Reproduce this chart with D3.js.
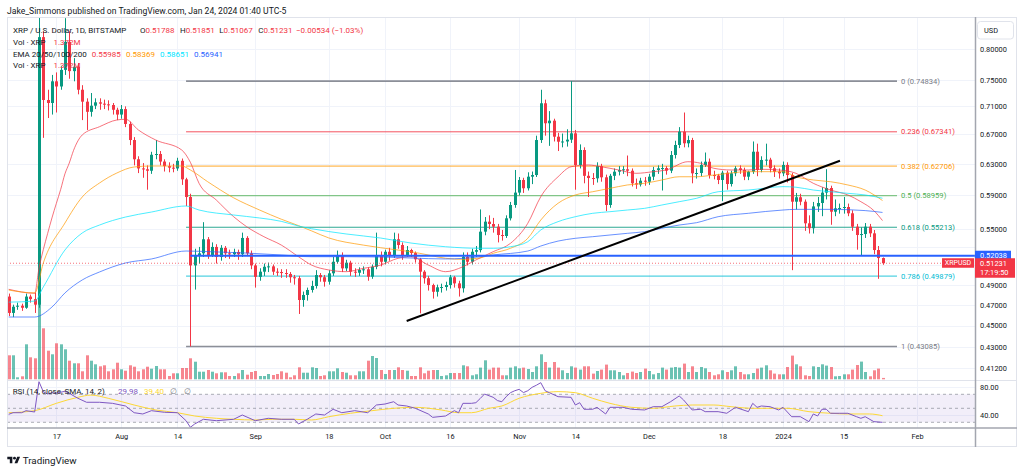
<!DOCTYPE html>
<html><head><meta charset="utf-8">
<script src="https://cdn.jsdelivr.net/npm/d3@7"></script>
<style>body{margin:0;background:#fff}svg{display:block;font-family:Roboto,"Noto Sans",sans-serif}</style>
</head><body><svg id="c" width="1024" height="472"></svg>
<script>
// ---------------- DATA ----------------
const startDate = "2023-07-06";
const endDate = "2024-01-24";
const opens = [
0.478,0.462,0.468,0.469,0.467,0.478,0.4755,0.470,0.820,0.7195,
0.715,0.748,0.740,0.766,0.812,0.764,0.771,0.735,0.717,0.702,
0.711,0.716,0.714,0.713,0.712,0.705,0.698,0.706,0.6845,0.662,
0.636,0.624,0.6229,0.621,0.642,0.643,0.633,0.627,0.625,0.624,
0.634,0.610,0.588,0.510,0.521,0.523,0.5385,0.521,0.530,0.519,
0.529,0.523,0.522,0.5245,0.522,0.540,0.523,0.510,0.498,0.5034,
0.5086,0.509,0.5034,0.503,0.502,0.501,0.4976,0.4966,0.4746,0.4796,
0.4846,0.4886,0.4999,0.4976,0.493,0.5017,0.5139,0.5212,0.5069,0.5129,
0.5034,0.5023,0.5052,0.5059,0.4982,0.5086,0.5212,0.5139,0.5247,0.5201,
0.5385,0.5321,0.5212,0.5266,0.5233,0.5165,0.5034,0.4966,0.4896,0.4828,
0.4873,0.4876,0.4896,0.4976,0.4913,0.4863,0.5193,0.5139,0.5247,0.5265,
0.5471,0.5586,0.5559,0.5528,0.5433,0.5422,0.5625,0.5783,0.5934,0.6092,
0.5988,0.6134,0.6155,0.662,0.7146,0.6855,0.6892,0.6666,0.6597,0.660,
0.6625,0.6713,0.6285,0.6484,0.6145,0.6117,0.6113,0.627,0.6126,0.5783,
0.6145,0.6198,0.622,0.6229,0.621,0.605,0.6035,0.6083,0.607,0.6134,
0.622,0.6242,0.6245,0.6211,0.6417,0.6552,0.6736,0.6575,0.662,0.6177,
0.6181,0.6285,0.6328,0.6155,0.6148,0.6092,0.6185,0.6041,0.6177,0.6242,
0.622,0.6134,0.6198,0.6461,0.622,0.6351,0.6355,0.6242,0.6198,0.6177,
0.6285,0.6155,0.5823,0.5877,0.5823,0.5567,0.551,0.5766,0.5807,0.5934,
0.5991,0.5703,0.5743,0.5747,0.5759,0.5684,0.5528,0.5433,0.5444,0.5528,
0.5452,0.5266,0.51788];
const highs = [
0.481,0.470,0.472,0.471,0.481,0.480,0.482,0.935,0.830,0.735,
0.758,0.762,0.772,0.853,0.830,0.785,0.777,0.742,0.722,0.730,
0.722,0.722,0.720,0.719,0.715,0.708,0.712,0.710,0.688,0.666,
0.640,0.631,0.628,0.646,0.662,0.647,0.636,0.632,0.630,0.638,
0.637,0.612,0.592,0.528,0.530,0.558,0.541,0.535,0.533,0.532,
0.531,0.527,0.528,0.527,0.546,0.542,0.526,0.512,0.507,0.512,
0.513,0.511,0.507,0.506,0.506,0.503,0.500,0.499,0.483,0.487,
0.494,0.505,0.502,0.500,0.505,0.519,0.526,0.524,0.516,0.515,
0.507,0.508,0.509,0.508,0.511,0.546,0.525,0.527,0.529,0.546,
0.545,0.535,0.531,0.528,0.525,0.518,0.505,0.499,0.491,0.490,
0.491,0.493,0.500,0.499,0.494,0.524,0.524,0.528,0.531,0.573,
0.564,0.566,0.563,0.556,0.549,0.566,0.582,0.622,0.613,0.612,
0.619,0.620,0.668,0.735,0.720,0.703,0.692,0.672,0.671,0.677,
0.7483,0.676,0.656,0.652,0.620,0.618,0.632,0.630,0.616,0.617,
0.624,0.627,0.627,0.641,0.624,0.611,0.612,0.613,0.617,0.626,
0.628,0.630,0.627,0.647,0.661,0.680,0.701,0.668,0.665,0.624,
0.633,0.645,0.637,0.621,0.617,0.621,0.621,0.621,0.627,0.628,
0.625,0.621,0.660,0.657,0.640,0.657,0.638,0.628,0.624,0.633,
0.632,0.618,0.593,0.592,0.585,0.566,0.582,0.588,0.600,0.623,
0.602,0.585,0.580,0.588,0.580,0.572,0.556,0.552,0.557,0.556,
0.549,0.531,0.51851];
const lows = [
0.459,0.458,0.465,0.464,0.466,0.472,0.462,0.467,0.665,0.693,
0.698,0.701,0.735,0.758,0.752,0.748,0.728,0.690,0.676,0.695,
0.706,0.705,0.706,0.704,0.698,0.690,0.692,0.680,0.655,0.628,
0.618,0.612,0.597,0.617,0.636,0.628,0.620,0.619,0.619,0.621,
0.603,0.577,0.4309,0.485,0.512,0.519,0.517,0.519,0.512,0.515,
0.518,0.517,0.519,0.516,0.519,0.520,0.506,0.487,0.494,0.499,
0.503,0.500,0.499,0.497,0.497,0.492,0.490,0.461,0.468,0.474,
0.482,0.486,0.493,0.488,0.490,0.499,0.512,0.503,0.504,0.499,
0.498,0.499,0.501,0.494,0.496,0.506,0.509,0.511,0.515,0.518,
0.528,0.516,0.519,0.519,0.513,0.4616,0.491,0.484,0.476,0.478,
0.482,0.484,0.486,0.487,0.478,0.482,0.510,0.511,0.519,0.524,
0.543,0.550,0.546,0.535,0.537,0.540,0.560,0.575,0.590,0.593,
0.596,0.604,0.613,0.658,0.668,0.654,0.660,0.647,0.652,0.653,
0.658,0.597,0.624,0.605,0.588,0.603,0.606,0.607,0.571,0.575,
0.609,0.615,0.617,0.614,0.601,0.598,0.601,0.602,0.603,0.609,
0.617,0.596,0.616,0.618,0.637,0.651,0.652,0.652,0.605,0.611,
0.614,0.626,0.611,0.610,0.604,0.583,0.597,0.601,0.614,0.617,
0.609,0.609,0.617,0.614,0.619,0.628,0.619,0.613,0.611,0.614,
0.606,0.505,0.573,0.578,0.548,0.545,0.545,0.570,0.565,0.585,
0.555,0.565,0.568,0.568,0.565,0.548,0.527,0.521,0.540,0.541,
0.522,0.496,0.51067];
const closes = [
0.462,0.468,0.469,0.467,0.478,0.4755,0.470,0.820,0.7195,0.715,
0.748,0.740,0.766,0.812,0.764,0.771,0.735,0.717,0.702,0.711,
0.716,0.714,0.713,0.712,0.705,0.698,0.706,0.6845,0.662,0.636,
0.624,0.6229,0.621,0.642,0.643,0.633,0.627,0.625,0.624,0.634,
0.610,0.588,0.510,0.521,0.523,0.5385,0.521,0.530,0.519,0.529,
0.523,0.522,0.5245,0.522,0.540,0.523,0.510,0.498,0.5034,0.5086,
0.509,0.5034,0.503,0.502,0.501,0.4976,0.4966,0.4746,0.4796,0.4846,
0.4886,0.4999,0.4976,0.493,0.5017,0.5139,0.5212,0.5069,0.5129,0.5034,
0.5023,0.5052,0.5059,0.4982,0.5086,0.5212,0.5139,0.5247,0.5201,0.5385,
0.5321,0.5212,0.5266,0.5233,0.5165,0.5034,0.4966,0.4896,0.4828,0.4873,
0.4876,0.4896,0.4976,0.4913,0.4863,0.5193,0.5139,0.5247,0.5265,0.5471,
0.5586,0.5559,0.5528,0.5433,0.5422,0.5625,0.5783,0.5934,0.6092,0.5988,
0.6134,0.6155,0.662,0.7146,0.6855,0.6892,0.6666,0.6597,0.660,0.6625,
0.6713,0.6285,0.6484,0.6145,0.6117,0.6113,0.627,0.6126,0.5783,0.6145,
0.6198,0.622,0.6229,0.621,0.605,0.6035,0.6083,0.607,0.6134,0.622,
0.6242,0.6245,0.6211,0.6417,0.6552,0.6736,0.6575,0.662,0.6177,0.6181,
0.6285,0.6328,0.6155,0.6148,0.6092,0.6185,0.6041,0.6177,0.6242,0.622,
0.6134,0.6198,0.6461,0.622,0.6351,0.6355,0.6242,0.6198,0.6177,0.6285,
0.6155,0.5823,0.5877,0.5823,0.5567,0.551,0.5766,0.5807,0.5934,0.5991,
0.5703,0.5743,0.5747,0.5759,0.5684,0.5528,0.5433,0.5444,0.5528,0.5452,
0.5266,0.51788,0.51231];
// volume, millions XRP
const volumes = [
24,24,2,3,35,22,21,83,51,28.6,
25,36,35,30,18.6,16,16,8,24,18.6,
15,13,14,8,10,16.6,10,8.6,14,12.6,
8,10,12.6,10.6,13.3,10,10,3.3,6,6,
11.3,11.3,21,17.6,7.6,7.6,9.3,7.6,6,7,
7,3.3,3.3,6,9.3,4.6,7.3,8.3,3.3,3.3,
5.3,4.3,5.3,8,6.6,2,4,12,6.6,6.6,
12,11.3,3.3,4,8,8,11,7.3,6.6,4,
4,8,8,18.6,23.3,21.3,9.3,5.3,9.3,9.3,
12,9.3,8.6,3.3,3.3,12,6,8.6,9.3,9.3,
3.3,4,6.3,6.3,6.3,14,13,4,5,11.7,
19,9.7,11.7,11.7,4,4,11.7,13,11,11.7,
10.3,7.3,13,25,17.3,11.7,17.3,11.7,9,6.3,
13,11.7,9.7,13,13,5.7,8.3,9.7,14.7,9,
9,7.3,4,6.3,7.7,6.3,7.3,10.7,8.3,5,
6.3,11.7,9.7,11.7,12.3,11.7,15.7,7.3,13,7.3,
12.3,11,7.3,4,5,9,7.3,9,13,7.3,
5,5,6.3,10.7,11.7,14,9,5.7,5,5,
12.3,23.7,15,13,4,3.3,13,12.3,15,13.7,
12.3,3,3.3,5,5,9.7,14.3,17.7,7.3,3,
9,10.7,1.372];
// EMA readings: [day index from startDate, value]
const ema20 = [[0,0.4853],[6,0.4813],[7,0.507],[8,0.527],[9,0.545],[10,0.563],[11,0.580],[12,0.597],[13,0.617],[14,0.631],[15,0.648],[17,0.669],[21,0.6806],[25,0.6902],[27,0.6912],[30,0.6759],[34,0.662],[40,0.6484],[42,0.632],[44,0.605],[48,0.5843],[52,0.5644],[55,0.5528],[59,0.5414],[63,0.5321],[67,0.5193],[70,0.5104],[74,0.5052],[78,0.5034],[82,0.5069],[86,0.5104],[90,0.5176],[93,0.5193],[97,0.5104],[101,0.5034],[105,0.5086],[108,0.5158],[112,0.5248],[116,0.534],[120,0.5567],[123,0.5884],[127,0.6133],[130,0.6262],[134,0.6285],[137,0.6262],[141,0.622],[145,0.6177],[149,0.6198],[152,0.622],[157,0.6328],[160,0.6307],[163,0.6242],[167,0.622],[171,0.622],[174,0.6229],[178,0.622],[182,0.6177],[186,0.605],[190,0.5966],[194,0.5905],[197,0.5823],[200,0.5716],[202,0.55985]];
const ema50 = [[0,0.4845],[6,0.4816],[8,0.5126],[13,0.557],[17,0.588],[21,0.6054],[25,0.6181],[29,0.6259],[33,0.6272],[40,0.6272],[42,0.622],[46,0.607],[52,0.587],[58,0.5723],[63,0.5615],[67,0.554],[70,0.548],[74,0.540],[82,0.532],[90,0.5266],[93,0.5247],[97,0.5212],[101,0.5176],[105,0.5165],[109,0.518],[112,0.523],[116,0.5285],[120,0.5396],[123,0.5605],[127,0.5804],[131,0.5905],[135,0.5945],[139,0.5987],[143,0.6029],[147,0.605],[151,0.6092],[155,0.6133],[159,0.6133],[163,0.6155],[171,0.6198],[179,0.6198],[182,0.6133],[186,0.6092],[190,0.607],[194,0.6029],[198,0.5966],[202,0.58369]];
const ema100 = [[0,0.4725],[6,0.4735],[8,0.4876],[13,0.5266],[17,0.5456],[21,0.5547],[27,0.564],[33,0.5699],[41,0.5771],[44,0.5723],[52,0.5664],[58,0.5629],[63,0.559],[67,0.5535],[70,0.5505],[78,0.5445],[86,0.5399],[93,0.5343],[101,0.5302],[109,0.5285],[112,0.5285],[116,0.5302],[120,0.5358],[123,0.549],[127,0.5586],[131,0.5644],[135,0.5684],[139,0.5703],[143,0.5723],[147,0.5743],[151,0.5783],[155,0.5823],[159,0.5864],[164,0.5945],[171,0.5966],[179,0.6008],[182,0.6001],[186,0.5966],[190,0.5945],[194,0.5925],[198,0.5905],[202,0.58651]];
const ema200 = [[0,0.4581],[6,0.4581],[10,0.4677],[13,0.4816],[17,0.4948],[21,0.5031],[27,0.5126],[33,0.5169],[41,0.5255],[47,0.5247],[55,0.5233],[63,0.5212],[70,0.5193],[78,0.5193],[86,0.519],[93,0.5179],[101,0.5169],[109,0.5193],[112,0.5212],[120,0.5255],[123,0.531],[127,0.5365],[131,0.5396],[135,0.5414],[139,0.5433],[143,0.5452],[147,0.5471],[151,0.551],[155,0.5547],[159,0.5574],[164,0.5644],[171,0.5684],[179,0.5723],[182,0.5731],[190,0.5731],[198,0.5716],[202,0.56941]];
// RSI readings: [day index, value]
const rsi = [[0,41.4],[1,43.7],[3,43.7],[4,46.6],[6,44.7],[7,88],[8,73.7],[9,70.4],[10,72.3],[11,71.4],[13,74.3],[14,71.4],[16,64.3],[18,58.6],[21,58.6],[24,57.1],[27,53.3],[29,43.7],[31,41.9],[33,46.6],[36,44.3],[39,43.7],[41,32.3],[42,22.9],[43,27.6],[45,34.3],[48,32.3],[52,34.3],[54,40.4],[57,32.3],[60,35.7],[63,34.3],[66,34.3],[67,27.6],[69,34.3],[71,41.9],[73,40.4],[75,48.6],[77,43.7],[80,46.6],[83,43.7],[85,54.7],[87,56.1],[89,59.4],[90,54.7],[92,53.3],[94,50],[97,41.9],[98,37.1],[101,39],[103,46.6],[104,43.7],[105,57.1],[107,57.1],[108,58],[109,64],[110,70.4],[112,65.7],[113,61],[114,59.4],[115,66.6],[116,72.3],[117,75.1],[118,77.1],[119,72.5],[120,75.1],[121,80],[122,83],[123,86.6],[124,75.1],[125,72.3],[127,66.6],[130,65.7],[131,54.7],[132,58],[133,48.6],[135,48.6],[136,51.4],[138,41.9],[139,51.4],[142,51.4],[144,48.6],[147,47.6],[149,52.3],[151,52.3],[153,59.4],[155,67.6],[156,62],[158,47.6],[160,48.6],[161,45.2],[164,45.2],[166,42.9],[168,51.4],[171,45.2],[172,57.1],[173,51.4],[174,53.3],[176,52.3],[178,47.6],[179,51.4],[181,38],[183,38],[185,30.9],[186,41.9],[187,39],[188,48.6],[189,48.6],[190,42.9],[192,42.9],[194,42.9],[196,38],[197,35.7],[198,38],[200,30.9],[202,29.98]];
const rsiSma = [[0,43.7],[6,46.6],[11,57.1],[16,65.7],[19,68.9],[23,64.3],[29,54.7],[34,47.6],[39,43.7],[43,39],[48,35.7],[52,34.3],[57,33.3],[61,34.3],[66,34.3],[70,33.3],[74,38],[79,42.9],[84,46.6],[89,50],[94,51.4],[100,47.6],[104,43.7],[107,43.7],[111,50],[114,53.3],[118,64.3],[123,71.4],[127,73.8],[131,72.3],[135,64.3],[139,57.1],[144,51.4],[149,50],[154,53.3],[158,54.7],[163,54.7],[167,52.3],[172,50],[176,50],[180,50],[185,45.2],[190,42.9],[194,41.9],[199,41.9],[202,39.4]];
const priceTicks = [0.8,0.75,0.71,0.67,0.63,0.59,0.55,0.49,0.47,0.45,0.43,0.412];
const priceGridExtra = [0.53,0.51];
const rsiTicks = [80,40];
const rsiLevels = [70,50,30];
const timeTickDates = ["2023-07-17","2023-08-01","2023-08-14","2023-09-01","2023-09-18","2023-10-01","2023-10-16","2023-11-01","2023-11-14","2023-12-01","2023-12-18","2024-01-01","2024-01-15","2024-02-01"];
const timeTickLabels = ["17","Aug","14","Sep","18","Oct","16","Nov","14","Dec","18","2024","15","Feb"];
const fibRatios = ["0","0.236","0.382","0.5","0.618","0.786","1"];
const fibPrices = [0.74834,0.67341,0.62706,0.58959,0.55213,0.49879,0.43085];
const fibStartDay = 41;
const hLinePrice = 0.52038, hLineStartDay = 42;
const lastPrice = 0.51231;
const trendStart = ["2023-10-06", 0.4543], trendEnd = ["2024-01-14T04:00", 0.6341];

// ---------------- STYLE ----------------
const UP = "#089981", DOWN = "#f23645", TXT = "#131722";
const FIB_COLORS = ["#787b86","#f23645","#ff9800","#4caf50","#089981","#00bcd4","#787b86"];
const EMA_COLORS = ["#f23645","#ff9800","#00e5ff","#2962ff"];
const L = 7, R = 975, TOP = 17, MAINB = 380, RSIB = 428, BOT = 447, RIGHT = 1017;

// ---------------- SCALES ----------------
const svg = d3.select("#c");
const parse = d3.utcParse("%Y-%m-%d");
const parseT = d3.utcParse("%Y-%m-%dT%H:%M");
const d0 = parse(startDate);
const dates = d3.utcDay.range(d0, d3.utcDay.offset(parse(endDate), 1));
const x = d3.scaleUtc().domain([dates[0], dates[dates.length - 1]]).range([8.7, 882.5]);
const y = d3.scaleLog().domain([0.412, 0.8]).range([368, 49]);
const yv = d3.scaleLinear().domain([0, 100]).range([379.3, 279.3]);
const yr = d3.scaleLinear().domain([40, 80]).range([415.3, 387.3]);
const xd = i => x(d3.utcDay.offset(d0, i));

svg.append("rect").attr("width", 1024).attr("height", 472).attr("fill", "#fff");
const defs = svg.append("defs");
defs.append("clipPath").attr("id", "mainClip").append("rect").attr("x", L).attr("y", TOP).attr("width", R - L).attr("height", MAINB - TOP);
defs.append("clipPath").attr("id", "rsiClip").append("rect").attr("x", L).attr("y", MAINB + 1).attr("width", R - L).attr("height", RSIB - MAINB - 1);

// grid
const grid = svg.append("g").attr("stroke", "#f0f3fa").attr("stroke-width", 1);
priceTicks.concat(priceGridExtra).forEach(p => grid.append("line").attr("x1", L).attr("x2", R).attr("y1", Math.round(y(p)) + 0.5).attr("y2", Math.round(y(p)) + 0.5));
rsiTicks.forEach(v => grid.append("line").attr("x1", L).attr("x2", R).attr("y1", Math.round(yr(v)) + 0.5).attr("y2", Math.round(yr(v)) + 0.5));
timeTickDates.forEach(t => grid.append("line").attr("x1", Math.round(x(parse(t))) + 0.5).attr("x2", Math.round(x(parse(t))) + 0.5).attr("y1", TOP).attr("y2", RSIB));

// ---------------- MAIN PANE ----------------
const main = svg.append("g").attr("clip-path", "url(#mainClip)");
// volume
main.append("g").selectAll("rect").data(volumes).join("rect")
  .attr("x", (v, i) => Math.round(xd(i)) - 1).attr("width", 3)
  .attr("y", v => yv(v)).attr("height", v => yv(0) - yv(v))
  .attr("fill", (v, i) => closes[i] >= opens[i] ? UP : DOWN).attr("fill-opacity", 0.6);

// fib levels
fibPrices.forEach((p, k) => {
  main.append("line").attr("x1", xd(fibStartDay)).attr("x2", 897)
    .attr("y1", y(p)).attr("y2", y(p)).attr("stroke", FIB_COLORS[k])
    .attr("stroke-width", (k === 0 || k === 6) ? 1.6 : 1).attr("stroke-opacity", 0.85);
});

// candles
const cg = main.append("g");
closes.forEach((c, i) => {
  const o = opens[i], col = c >= o ? UP : DOWN, cx = Math.round(xd(i));
  cg.append("line").attr("x1", cx + 0.5).attr("x2", cx + 0.5).attr("y1", y(highs[i])).attr("y2", y(lows[i])).attr("stroke", col).attr("stroke-width", 1);
  const yt = y(Math.max(o, c)), yb = y(Math.min(o, c));
  cg.append("rect").attr("x", cx - 1).attr("width", 3).attr("y", yt).attr("height", Math.max(1, yb - yt)).attr("fill", col);
});

// EMAs
const emaLine = d3.line().x(d => xd(d[0])).y(d => y(d[1])).curve(d3.curveMonotoneX);
[ema20, ema50, ema100, ema200].forEach((s, k) => {
  main.append("path").attr("d", emaLine(s)).attr("fill", "none").attr("stroke", EMA_COLORS[k]).attr("stroke-width", 1).attr("stroke-opacity", 0.7);
});

// horizontal lines
main.append("line").attr("x1", L).attr("x2", R).attr("y1", y(lastPrice)).attr("y2", y(lastPrice))
  .attr("stroke", DOWN).attr("stroke-dasharray", "1,2").attr("stroke-opacity", 0.7);
main.append("line").attr("x1", xd(hLineStartDay)).attr("x2", R).attr("y1", y(hLinePrice)).attr("y2", y(hLinePrice))
  .attr("stroke", "#2962ff").attr("stroke-width", 2);
// trend line
main.append("line").attr("x1", x(parse(trendStart[0]))).attr("y1", y(trendStart[1]))
  .attr("x2", x(parseT(trendEnd[0]))).attr("y2", y(trendEnd[1])).attr("stroke", "#000").attr("stroke-width", 2);

// fib labels
fibPrices.forEach((p, k) => {
  svg.append("text").attr("x", 901).attr("y", y(p)).attr("dy", "0.35em").attr("font-size", 7.6)
    .attr("fill", FIB_COLORS[k]).text(fibRatios[k] + " (" + p.toFixed(5) + ")");
});

// ---------------- RSI PANE ----------------
const rg = svg.append("g").attr("clip-path", "url(#rsiClip)");
rg.append("rect").attr("x", L).attr("width", R - L).attr("y", yr(70)).attr("height", yr(30) - yr(70)).attr("fill", "#7e57c2").attr("fill-opacity", 0.1);
rsiLevels.forEach(v => rg.append("line").attr("x1", L).attr("x2", R).attr("y1", yr(v)).attr("y2", yr(v))
  .attr("stroke", "#787b86").attr("stroke-opacity", 0.6).attr("stroke-dasharray", "3,3"));
const rl = d3.line().x(d => xd(d[0])).y(d => yr(d[1]));
rg.append("path").attr("d", rl.curve(d3.curveMonotoneX)(rsiSma)).attr("fill", "none").attr("stroke", "#fdd835").attr("stroke-width", 1);
rg.append("path").attr("d", d3.line().x(d => xd(d[0])).y(d => yr(d[1]))(rsi)).attr("fill", "none").attr("stroke", "#7e57c2").attr("stroke-width", 1);

// ---------------- FRAME ----------------
svg.append("rect").attr("x", L + 0.5).attr("y", TOP + 0.5).attr("width", RIGHT - L - 1).attr("height", BOT - TOP - 1).attr("fill", "none").attr("stroke", "#e0e3eb");
svg.append("line").attr("x1", L).attr("x2", RIGHT).attr("y1", MAINB + 0.5).attr("y2", MAINB + 0.5).attr("stroke", "#e0e3eb");
svg.append("line").attr("x1", R + 0.5).attr("x2", R + 0.5).attr("y1", TOP).attr("y2", BOT).attr("stroke", "#a3a6af").attr("stroke-width", 1.5);
svg.append("line").attr("x1", L).attr("x2", RIGHT).attr("y1", RSIB).attr("y2", RSIB).attr("stroke", "#a3a6af").attr("stroke-width", 1.5);

// axes
const pa = svg.append("g").attr("transform", `translate(${R},0)`)
  .call(d3.axisRight(y).tickValues(priceTicks).tickFormat(d3.format(".5f")).tickSize(0).tickPadding(5));
const ra = svg.append("g").attr("transform", `translate(${R},0)`)
  .call(d3.axisRight(yr).tickValues(rsiTicks).tickFormat(d3.format(".2f")).tickSize(0).tickPadding(5));
const ta = svg.append("g").attr("transform", `translate(0,${RSIB})`)
  .call(d3.axisBottom(x).tickValues(timeTickDates.map(parse)).tickFormat((d, i) => timeTickLabels[i]).tickSize(0).tickPadding(6));
[pa, ra, ta].forEach(g => { g.select(".domain").remove(); g.selectAll("text").attr("fill", TXT).attr("font-family", "Roboto").attr("font-size", 7.4); });

// USD box
svg.append("rect").attr("x", 977.5).attr("y", 21.5).attr("width", 36).attr("height", 17.5).attr("rx", 3).attr("fill", "#fff").attr("stroke", "#e0e3eb");
svg.append("text").attr("x", 984).attr("y", 30.3).attr("dy", "0.35em").attr("font-size", 7.4).attr("fill", TXT).text("USD");
// price labels
svg.append("rect").attr("x", R).attr("y", y(hLinePrice) - 5).attr("width", 36).attr("height", 10).attr("fill", "#2962ff");
svg.append("text").attr("x", 980).attr("y", y(hLinePrice)).attr("dy", "0.35em").attr("font-size", 7.4).attr("fill", "#fff").text(hLinePrice.toFixed(5));
svg.append("rect").attr("x", R).attr("y", y(lastPrice) - 5).attr("width", 40).attr("height", 19.5).attr("fill", DOWN);
svg.append("text").attr("x", 980).attr("y", y(lastPrice)).attr("dy", "0.35em").attr("font-size", 7.4).attr("fill", "#fff").text(lastPrice.toFixed(5));
svg.append("text").attr("x", 980).attr("y", y(lastPrice) + 9.3).attr("dy", "0.35em").attr("font-size", 7.4).attr("fill", "#fff").text("17:19:50");
svg.append("rect").attr("x", 942).attr("y", y(lastPrice) - 5).attr("width", 32).attr("height", 9.5).attr("fill", DOWN);
svg.append("text").attr("x", 958).attr("y", y(lastPrice) - 0.3).attr("dy", "0.35em").attr("text-anchor", "middle").attr("font-size", 7).attr("fill", "#fff").text("XRPUSD");

// ---------------- TEXT ----------------
svg.append("text").attr("x", 7).attr("y", 14).attr("font-size", 8.6).attr("fill", TXT).text("Jake_Simmons published on TradingView.com, Jan 24, 2024 01:40 UTC-5");
function leg(xp, yp, parts) {
  const t = svg.append("text").attr("x", xp).attr("y", yp).attr("font-size", 8);
  parts.forEach(p => t.append("tspan").attr("fill", p[1]).text(p[0]));
}
leg(13, 33, [["XRP / U.S. Dollar, 1D, BITSTAMP", TXT]]);
leg(140, 33, [["O", TXT], ["0.51788", DOWN]]);
leg(180, 33, [["H", TXT], ["0.51851", DOWN]]);
leg(219.3, 33, [["L", TXT], ["0.51067", DOWN]]);
leg(258.3, 33, [["C", TXT], ["0.51231", DOWN]]);
leg(296, 33, [["\u22120.00534 (\u22121.03%)", DOWN]]);
leg(13, 45, [["Vol \u00b7 XRP", TXT]]);
leg(53.5, 45, [["1.372M", DOWN]]);
leg(13, 56.5, [["EMA 20/50/100/200", TXT]]);
leg(91.7, 56.5, [["0.55985", "#f23645"]]);
leg(126, 56.5, [["0.58369", "#ff9800"]]);
leg(160, 56.5, [["0.58651", "#00e5ff"]]);
leg(194, 56.5, [["0.56941", "#2962ff"]]);
leg(13, 67.5, [["Vol \u00b7 XRP", TXT]]);
leg(53.5, 67.5, [["1.372M", DOWN]]);
leg(12.7, 393.6, [["RSI (14, close, SMA, 14, 2)", TXT]]);
leg(118, 393.6, [["29.98", "#7e57c2"]]);
leg(144, 393.6, [["39.40", "#fdd835"]]);
leg(170, 393.6, [["\u2205", "#787b86"]]);
leg(184, 393.6, [["\u2205", "#787b86"]]);

// logo
const logo = svg.append("g").attr("transform", "translate(7.3,455.3) scale(0.36)").attr("fill", TXT);
logo.append("path").attr("d", "M14 22H7V11H0V4h14v18zM28 22h-8l7.5-18h8L28 22z");
logo.append("circle").attr("cx", 20).attr("cy", 8).attr("r", 4);
svg.append("text").attr("x", 22.7).attr("y", 463.6).attr("font-size", 9.8).attr("fill", TXT).text("TradingView");
</script></body></html>
